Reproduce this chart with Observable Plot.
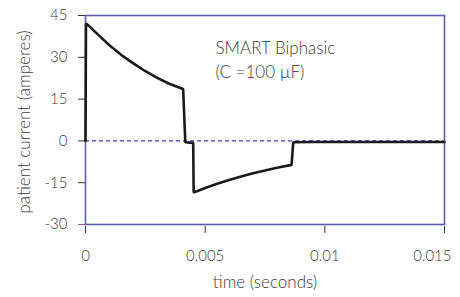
<!DOCTYPE html>
<html><head><meta charset="utf-8">
<script src="https://cdn.jsdelivr.net/npm/d3@7"></script>
<script src="https://cdn.jsdelivr.net/npm/@observablehq/plot@0.6"></script>
<style>body{margin:0;background:#fff}</style>
</head><body><div id="chart"></div>
<script>
// waveform samples: time (s), current (A)
const times = [0, 0.00002, 0.00005, 0.0005, 0.001, 0.0015, 0.002, 0.0025, 0.003, 0.0035, 0.00408, 0.00417, 0.0045, 0.00452, 0.005, 0.0055, 0.006, 0.0065, 0.007, 0.0075, 0.008, 0.00861, 0.00868, 0.0095, 0.015];
const current = [0, 42, 42, 38.3, 34.3, 30.8, 27.8, 25.0, 22.6, 20.5, 18.6, -0.5, -0.7, -18.5, -16.9, -15.4, -14.0, -12.8, -11.6, -10.6, -9.6, -8.6, -0.5, -0.4, -0.4];
const yTicks = [45, 30, 15, 0, -15, -30];
const xTicks = [0, 0.005, 0.01, 0.015];
const xTickLabels = ["0", "0.005", "0.01", "0.015"];
const title = "SMART Biphasic\n(C =100 µF)";
const xLabel = "time (seconds)";
const yLabel = "patient current (amperes)";

const data = times.map((t, i) => ({t, a: current[i]}));
const xLab = xTicks.map((t, i) => ({t, s: xTickLabels[i]}));
const font = "Lato, 'Open Sans', sans-serif";
const frameColor = "#5b5fa8";
const textColor = "#3a3a3a";

const chart = Plot.plot({
  width: 460, height: 297,
  marginLeft: 85, marginRight: 16, marginTop: 15, marginBottom: 73,
  style: {fontFamily: font, fontSize: "15px", fontWeight: 300, color: textColor, background: "#fff"},
  x: {domain: [0, 0.015], label: null, axis: null},
  y: {domain: [-30, 45], label: null, axis: null},
  marks: [
    Plot.ruleY([0], {stroke: "#3b3fb0", strokeDasharray: "4,3", strokeWidth: 1.2}),
    Plot.frame({stroke: frameColor, strokeWidth: 1.6}),
    Plot.axisY(yTicks, {tickSize: 7, tickPadding: 11, tickFormat: d => String(d), stroke: "#333", fill: textColor, label: null, fontSize: 15, fontWeight: 300}),
    Plot.axisY([-30], {tickSize: 7, tickFormat: () => "", stroke: "#b04a80", label: null}),
    Plot.axisX(xTicks, {tickSize: 7, dy: 2, tickFormat: () => "", stroke: "#333", label: null}),
    Plot.text(xLab.slice(0, 3), {x: "t", text: "s", frameAnchor: "bottom", lineAnchor: "bottom", dy: 36, fontSize: 15, fontWeight: 300, fill: textColor}),
    Plot.text(xLab.slice(3), {x: "t", text: "s", frameAnchor: "bottom", lineAnchor: "bottom", textAnchor: "end", dx: 7, dy: 36, fontSize: 15, fontWeight: 300, fill: textColor}),
    Plot.line(data, {x: "t", y: "a", stroke: "#1a1a1a", strokeWidth: 2.6, strokeLinejoin: "miter"}),
    Plot.text([title], {frameAnchor: "top-left", textAnchor: "start", lineAnchor: "top", dx: 130, dy: 22, lineHeight: 1.4, text: d => d, fontSize: 17, fontWeight: 300, fill: textColor}),
    Plot.text([xLabel], {frameAnchor: "bottom", lineAnchor: "bottom", textAnchor: "middle", dy: 63, text: d => d, fontSize: 17, fontWeight: 300, fill: textColor}),
    Plot.text([yLabel], {frameAnchor: "left", textAnchor: "middle", lineAnchor: "bottom", rotate: -90, dx: -56, dy: 2, text: d => d, fontSize: 17, fontWeight: 300, fill: textColor})
  ]
});
document.getElementById("chart").appendChild(chart);
</script>
</body></html>
